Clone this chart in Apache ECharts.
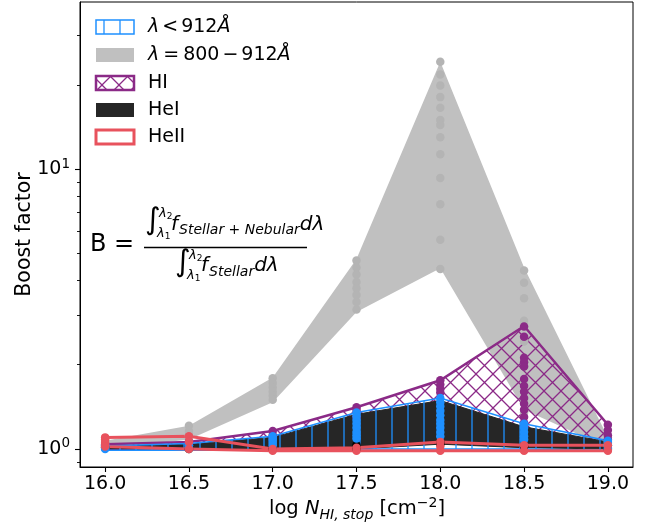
<!DOCTYPE html>
<html>
<head>
<meta charset="utf-8">
<script src="https://cdn.jsdelivr.net/npm/echarts@6/dist/echarts.min.js"></script>
<style>
  html, body { margin: 0; padding: 0; background: #fff; }
  #chart { width: 654px; height: 528px; }
</style>
</head>
<body>
<div id="chart"></div>
<script>
// Column density grid (log N_HI,stop)
const logN = [16.0, 16.5, 17.0, 17.5, 18.0, 18.5, 19.0];
const xTicks = [16.0, 16.5, 17.0, 17.5, 18.0, 18.5, 19.0];
const yMajorTicks = [1, 10];
const yMinorTicks = [0.9, 2, 3, 4, 5, 6, 7, 8, 9, 20, 30];

// Envelopes (min / max boost factor at each column density)
const farUvLow  = [1.00, 1.08, 1.47, 3.09, 4.43, 1.38, 1.01];   // lambda = 800-912 A
const farUvHigh = [1.07, 1.21, 1.80, 4.78, 24.2, 4.45, 1.10];
const hiLow     = [1.00, 1.01, 1.03, 1.04, 1.06, 1.06, 1.03];   // HI
const hiHigh    = [1.04, 1.06, 1.16, 1.41, 1.76, 2.75, 1.22];
const heiLow    = [1.00, 1.00, 0.995, 1.00, 1.04, 1.01, 1.00];  // HeI
const heiHigh   = [1.02, 1.04, 1.10, 1.33, 1.49, 1.20, 1.06];
const lycLow    = [0.99, 0.99, 0.99, 1.00, 1.00, 1.00, 0.99];   // lambda < 912 A
const lycHigh   = [1.025, 1.045, 1.11, 1.35, 1.52, 1.23, 1.07];
const heiiLow   = [1.02, 1.00, 0.985, 0.985, 0.985, 0.985, 0.985]; // HeII
const heiiHigh  = [1.10, 1.11, 1.00, 1.01, 1.06, 1.03, 1.03];

// Individual model values at each column density
const farUvPts = [
  [1.06, 1.03, 1.01],
  [1.21, 1.16, 1.12, 1.09],
  [1.79, 1.72, 1.66, 1.60, 1.55, 1.50],
  [4.72, 4.45, 4.20, 3.95, 3.75, 3.55, 3.35, 3.15],
  [24.2, 21.8, 19.9, 18.1, 16.6, 15.0, 14.4, 13.0, 11.3, 9.3, 7.5, 5.6, 4.4],
  [4.34, 3.93, 3.46, 2.87, 2.42, 2.05, 1.75, 1.50, 1.35],
  [1.10, 1.06, 1.03]
];
const hiPts = [
  [1.04, 1.02],
  [1.06, 1.03],
  [1.16, 1.12, 1.08],
  [1.41, 1.38, 1.30],
  [1.76, 1.70, 1.64, 1.59],
  [2.74, 2.52, 2.12, 2.04, 1.97, 1.78, 1.68, 1.60, 1.52, 1.45, 1.38, 1.30, 1.24],
  [1.22, 1.17, 1.12, 1.08]
];
const heiPts = [
  [1.01], [1.00], [1.00], [1.03, 1.00], [1.06, 1.04], [1.02], [1.00]
];
const lycPts = [
  [1.03, 1.01, 1.00],
  [1.05, 1.03, 1.01],
  [1.11, 1.09, 1.07, 1.05, 1.03],
  [1.35, 1.31, 1.27, 1.23, 1.19, 1.15, 1.12, 1.09],
  [1.52, 1.47, 1.42, 1.37, 1.32, 1.27, 1.23, 1.19, 1.15, 1.11],
  [1.23, 1.19, 1.15, 1.11, 1.08],
  [1.07, 1.05, 1.03, 1.01, 1.00]
];
const heiiPts = [
  [1.10, 1.08, 1.05, 1.02],
  [1.11, 1.06, 1.00],
  [1.00, 0.985],
  [1.01, 0.985],
  [1.06, 1.02, 0.985],
  [1.03, 0.985],
  [1.03, 0.985]
];

const FONT = '"DejaVu Sans"';
const C_GRAY = '#c0c0c0', C_GRAY_PT = '#b4b4b4';
const C_PURPLE = '#8b2a87', C_BLUE = '#1e90ff', C_BLACK = '#262626', C_RED = '#e8525d';

// Tileable hatch patterns
function hatch(kind, color, size, lw) {
  const c = document.createElement('canvas');
  c.width = size; c.height = size;
  const g = c.getContext('2d');
  g.strokeStyle = color; g.lineWidth = lw;
  g.beginPath();
  if (kind === '|') {
    g.moveTo(size / 2, 0); g.lineTo(size / 2, size);
  } else {
    g.moveTo(0, 0); g.lineTo(size, size);
    g.moveTo(size, 0); g.lineTo(0, size);
  }
  g.stroke();
  return c;
}
const vHatch = { image: hatch('|', C_BLUE, 16, 1.3), repeat: 'repeat' };
const xHatch = { image: hatch('x', C_PURPLE, 17, 1.3), repeat: 'repeat' };

function band(name, low, high, style) {
  return {
    type: 'custom', name, silent: true,
    data: logN.map((x, i) => [x, low[i], high[i]]),
    encode: { x: 0, y: [1, 2] },
    renderItem(params, api) {
      if (params.dataIndex !== 0) return null;
      const pts = [];
      for (let i = 0; i < logN.length; i++) pts.push(api.coord([logN[i], high[i]]));
      for (let i = logN.length - 1; i >= 0; i--) pts.push(api.coord([logN[i], low[i]]));
      return { type: 'polygon', shape: { points: pts }, style: Object.assign({ lineJoin: 'miter' }, style) };
    }
  };
}
function points(name, cols, color) {
  const data = [];
  cols.forEach((col, i) => col.forEach(v => data.push([logN[i], v])));
  return { type: 'scatter', name, silent: true, data, symbolSize: 8.5,
           itemStyle: { color, opacity: 1 } };
}

// ---- simple text layout for math-like labels ----
const mctx = document.createElement('canvas').getContext('2d');
function fontOf(t) { return (t.it ? 'italic ' : '') + t.size + 'px ' + FONT; }
function runWidth(tokens) {
  let w = 0;
  tokens.forEach(t => { mctx.font = fontOf(t); w += mctx.measureText(t.t).width + (t.gap || 0); });
  return w;
}
// place tokens on a common baseline; anchor = 'left' or 'center'
function textRun(tokens, x, base, anchor) {
  let cx = anchor === 'center' ? x - runWidth(tokens) / 2 : x;
  const out = [];
  tokens.forEach(t => {
    mctx.font = fontOf(t);
    const w = mctx.measureText(t.t).width;
    out.push({
      type: 'text', silent: true, z: 100,
      x: cx, y: base + (t.dy || 0) - 0.346 * t.size,
      style: { text: t.t, font: fontOf(t), fill: '#000', align: 'left', verticalAlign: 'middle' }
    });
    cx += w + (t.gap || 0);
  });
  return out;
}

const graphics = [];
// Legend
const legendRows = [
  { y: 20, fill: vHatch, stroke: C_BLUE, lw: 1.5,
    label: [{ t: 'λ', it: 1, size: 19, gap: 3 }, { t: '<', size: 19, gap: 3 }, { t: '912', size: 19 },
            { t: 'Å', it: 1, size: 19 }] },
  { y: 48, fill: C_GRAY, stroke: null, lw: 0,
    label: [{ t: 'λ', it: 1, size: 19, gap: 4 }, { t: '=', size: 19, gap: 4 }, { t: '800', size: 19, gap: 3 },
            { t: '−', size: 19, gap: 3 }, { t: '912', size: 19 }, { t: 'Å', it: 1, size: 19 }] },
  { y: 76, fill: xHatch, stroke: C_PURPLE, lw: 2.5, label: [{ t: 'HI', size: 19 }] },
  { y: 103, fill: C_BLACK, stroke: null, lw: 0, label: [{ t: 'HeI', size: 19 }] },
  { y: 130, fill: 'none', stroke: C_RED, lw: 3, label: [{ t: 'HeII', size: 19 }] }
];
legendRows.forEach(r => {
  graphics.push({ type: 'rect', silent: true, z: 100,
    shape: { x: 96, y: r.y, width: 38, height: 14 },
    style: { fill: r.fill, stroke: r.stroke || null, lineWidth: r.lw } });
  textRun(r.label, 148, r.y + 14, 'left').forEach(e => graphics.push(e));
});

// Boost factor definition
textRun([{ t: 'B', size: 24 }], 90, 253, 'left').forEach(e => graphics.push(e));
textRun([{ t: '=', size: 24 }], 114, 253, 'left').forEach(e => graphics.push(e));
graphics.push({ type: 'line', silent: true, z: 100,
  shape: { x1: 144, y1: 247.5, x2: 307, y2: 247.5 }, style: { stroke: '#000', lineWidth: 1.3 } });
// numerator
textRun([{ t: '∫', size: 30 }], 145, 232, 'left').forEach(e => graphics.push(e));
textRun([{ t: 'λ', it: 1, size: 13 }, { t: '2', size: 9, dy: 2 }], 159, 218, 'left').forEach(e => graphics.push(e));
textRun([{ t: 'λ', it: 1, size: 13 }, { t: '1', size: 9, dy: 2 }], 157, 238, 'left').forEach(e => graphics.push(e));
textRun([{ t: 'f', it: 1, size: 20, gap: 1 }, { t: 'Stellar + Nebular', it: 1, size: 14, dy: 4 },
         { t: 'dλ', it: 1, size: 20 }], 171, 231.5, 'left').forEach(e => graphics.push(e));
// denominator
textRun([{ t: '∫', size: 30 }], 175, 274, 'left').forEach(e => graphics.push(e));
textRun([{ t: 'λ', it: 1, size: 13 }, { t: '2', size: 9, dy: 2 }], 189, 260, 'left').forEach(e => graphics.push(e));
textRun([{ t: 'λ', it: 1, size: 13 }, { t: '1', size: 9, dy: 2 }], 187, 280, 'left').forEach(e => graphics.push(e));
textRun([{ t: 'f', it: 1, size: 20, gap: 1 }, { t: 'Stellar', it: 1, size: 14, dy: 4 },
         { t: 'dλ', it: 1, size: 20 }], 201, 273, 'left').forEach(e => graphics.push(e));

// x axis title
textRun([{ t: 'log ', size: 19.5 }, { t: 'N', it: 1, size: 19.5 }, { t: 'HI, stop', it: 1, size: 14, dy: 4 },
         { t: ' [cm', size: 19.5 }, { t: '−2', size: 14, dy: -8 }, { t: ']', size: 19.5 }],
        357, 516, 'center').forEach(e => graphics.push(e));

// y axis title
graphics.push({ type: 'text', silent: true, z: 100, x: 25, y: 234.5, rotation: Math.PI / 2,
  style: { text: 'Boost factor', font: '20.5px ' + FONT, fill: '#000', align: 'center', verticalAlign: 'middle' } });

const Y_MIN = 0.862, Y_MAX = 39.6;
const tickStyle = { color: '#000', width: 1.1 };

const option = {
  animation: false,
  backgroundColor: '#fff',
  grid: { left: 80, right: 21, top: 2, bottom: 61, show: true, borderColor: '#000', borderWidth: 1,
          backgroundColor: 'transparent' },
  xAxis: {
    type: 'value', min: 15.85, max: 19.15,
    axisLine: { show: true, lineStyle: { color: '#000', width: 1 } },
    axisTick: { show: true, length: 5, customValues: xTicks, lineStyle: tickStyle },
    axisLabel: { customValues: xTicks, formatter: v => v.toFixed(1), fontFamily: FONT, fontSize: 19,
                 color: '#000', margin: 8 },
    splitLine: { show: false }
  },
  yAxis: [
    {
      type: 'log', logBase: 10, min: Y_MIN, max: Y_MAX, position: 'left',
      axisLine: { show: true, lineStyle: { color: '#000', width: 1 } },
      axisTick: { show: true, length: 5, customValues: yMajorTicks, lineStyle: tickStyle },
      axisLabel: {
        customValues: yMajorTicks, margin: 10, color: '#000', fontFamily: FONT, fontSize: 19,
        formatter: v => '10{s|' + Math.round(Math.log10(v)) + '}',
        rich: { s: { fontFamily: FONT, fontSize: 13.5, color: '#000', padding: [0, 0, 10, 0] } }
      },
      splitLine: { show: false }
    },
    {
      type: 'log', logBase: 10, min: Y_MIN, max: Y_MAX, position: 'left',
      axisLine: { show: false },
      axisTick: { show: true, length: 3, customValues: yMinorTicks, lineStyle: { color: '#000', width: 0.9 } },
      axisLabel: { show: false },
      splitLine: { show: false }
    }
  ],
  series: [
    band('λ = 800 − 912Å', farUvLow, farUvHigh, { fill: C_GRAY, stroke: null }),
    points('λ = 800 − 912Å pts', farUvPts, C_GRAY_PT),
    band('HI', hiLow, hiHigh, { fill: xHatch, stroke: C_PURPLE, lineWidth: 2.5 }),
    points('HI pts', hiPts, C_PURPLE),
    band('HeI', heiLow, heiHigh, { fill: C_BLACK, stroke: C_BLACK, lineWidth: 1 }),
    points('HeI pts', heiPts, '#000'),
    band('λ < 912Å', lycLow, lycHigh, { fill: vHatch, stroke: C_BLUE, lineWidth: 1.5 }),
    points('λ < 912Å pts', lycPts, C_BLUE),
    band('HeII', heiiLow, heiiHigh, { fill: 'none', stroke: C_RED, lineWidth: 3 }),
    points('HeII pts', heiiPts, C_RED)
  ],
  graphic: graphics
};

const chart = echarts.init(document.getElementById('chart'), null, { renderer: 'canvas' });
chart.setOption(option);
</script>
</body>
</html>
